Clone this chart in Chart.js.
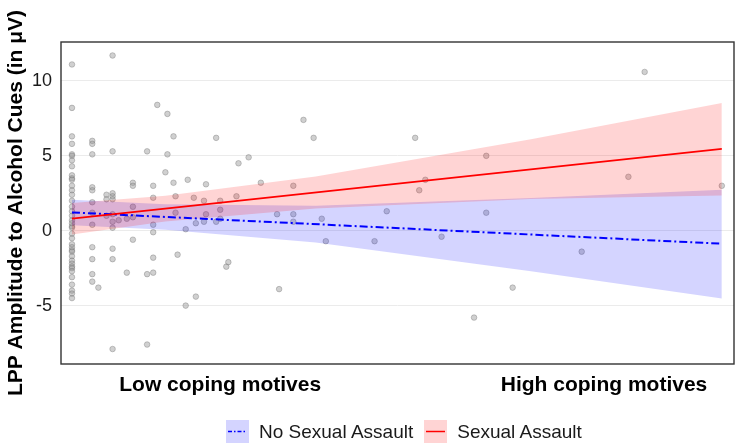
<!DOCTYPE html>
<html>
<head>
<meta charset="utf-8">
<script src="https://cdn.jsdelivr.net/npm/chart.js@4"></script>
<style>
  html, body { margin: 0; padding: 0; background: #fff; }
  #wrap { width: 740px; height: 448px; position: relative; }
  #legend { position: absolute; left: 226px; top: 420px; display: flex; align-items: center;
            font-family: 'Liberation Sans', Arial, sans-serif; font-size: 19px; color: #1a1a1a; }
  #legend .item { display: flex; align-items: center; margin-right: 11px; }
  #legend canvas { display: block; margin-right: 10px; }
</style>
</head>
<body>
<div id="wrap"><canvas id="lppChart"></canvas><div id="legend"></div></div>
<script>
// scatter of participants (coping score, LPP amplitude)
const pointsX = [
  0,0,0,0,0,0,0,0,0,0,0,0,0,0,0,0,0,0,0,0,0,0,0,0,0,0,0,0,0,0,0,0,0,0,0,0,0,0,0,
  1,1,1,1,1,1,1,1,1,1,1,1, 1.3, 1.7,1.7,1.7,
  2,2,2,2,2,2,2,2,2,2,2, 2.3, 2.7,2.7, 3,3,3,3,3, 3.7,3.7,3.7,
  4,4,4,4,4,4, 4.2, 4.6, 4.7,4.7, 5.0,5.0, 5.1,5.1, 5.2, 5.6,5.6, 5.7, 6.0, 6.1,6.1,
  6.5,6.5, 6.6,6.6, 7.1,7.1, 7.3,7.3,7.3, 7.6, 7.7, 8.1, 8.2, 8.7, 9.3, 10.1, 10.2,
  10.9,10.9,10.9, 11.4, 11.9, 12.3, 12.5, 14.9, 15.5, 16.9, 17.1, 17.4, 18.2, 19.8,
  20.4,20.4, 21.7, 25.1, 27.4, 28.2, 32.0
];
const pointsY = [
  11.1,8.2,6.3,5.8,5.1,5.0,4.7,4.3,3.7,3.5,3.4,3.0,2.7,2.4,2.0,1.6,1.3,1.0,0.7,0.5,0.3,0.2,
  -0.2,-0.5,-0.9,-1.1,-1.3,-1.4,-1.7,-2.0,-2.2,-2.4,-2.5,-2.7,-3.1,-3.6,-4.0,-4.2,-4.5,
  6.0,5.8,5.1,2.9,2.7,1.9,1.2,0.4,-1.1,-1.9,-2.9,-3.4, -3.8, 2.4,2.1,1.0,
  11.7,5.3,2.5,2.3,2.1,1.1,0.6,0.2,-1.2,-1.9,-7.9, 0.7, 0.8,-2.8, 3.2,3.0,1.6,0.9,-0.6, 5.3,-2.9,-7.6,
  3.0,2.2,0.4,-0.1,-1.8,-2.8, 8.4, 3.9, 7.8,5.1, 3.2,6.3, 2.3,1.2, -1.6, 0.1,-5.0, 3.4, 2.2, 0.5,-4.4,
  2.0,0.6, 3.1,1.1, 6.2,0.6, 2.0,1.4,0.8, -2.4, -2.1, 2.3, 4.5, 4.9, 3.2, 1.1, -3.9,
  3.0,1.1,0.6, 7.4, 6.2, 0.8, -0.7, -0.7, 1.3, 6.2, 2.7, 3.4, -0.4, -5.8,
  5.0,1.2, -3.8, -1.4, 3.6, 10.6, 3.0
];

// regression lines
const lineX = [0, 32];
const noAssaultFit = [1.22, -0.87];
const assaultFit = [0.8, 5.47];

// confidence bands (read at a few x positions)
const bandX = [0, 4.6, 12, 22.6, 32];
const noAssaultUpper = [2.07, 1.77, 1.66, 2.19, 2.73];
const noAssaultLower = [0.37, 0.07, -0.78, -2.71, -4.53];
const assaultUpper = [1.85, 2.33, 3.62, 6.11, 8.53];
const assaultLower = [-0.25, 0.61, 1.48, 2.11, 2.35];

const yTickValues = [-5, 0, 5, 10];
const xTickValues = [7.3, 26.2];
const xTickLabels = ['Low coping motives', 'High coping motives'];
const groupNames = ['No Sexual Assault', 'Sexual Assault'];

const FONT = "'Liberation Sans', Arial, sans-serif";
const BLUE = '#0000FF';
const RED = '#FF0000';
const BLUE_FILL = 'rgba(0,0,255,0.17)';
const RED_FILL = 'rgba(255,0,0,0.17)';
const BLUE_DASH = [8, 3, 2, 3];

const pairs = (xs, ys) => xs.map((x, i) => ({ x: x, y: ys[i] }));

function swatch(fill, stroke, dash) {
  const c = document.createElement('canvas');
  c.width = 23; c.height = 23;
  const g = c.getContext('2d');
  g.fillStyle = fill;
  g.fillRect(0, 0, 23, 23);
  g.strokeStyle = stroke;
  g.lineWidth = 1.5;
  g.setLineDash(dash);
  g.beginPath();
  g.moveTo(2, 11.5);
  g.lineTo(21, 11.5);
  g.stroke();
  return c;
}

// legend under the plot (ggplot puts it slightly right of centre)
const legendEl = document.getElementById('legend');
[[BLUE_FILL, BLUE, [4, 2, 1.5, 2]], [RED_FILL, RED, []]].forEach((s, i) => {
  const item = document.createElement('div');
  item.className = 'item';
  item.appendChild(swatch(s[0], s[1], s[2]));
  const label = document.createElement('span');
  label.textContent = groupNames[i];
  item.appendChild(label);
  legendEl.appendChild(item);
});

const panelBorder = {
  id: 'panelBorder',
  afterDatasetsDraw(chart) {
    const { ctx, chartArea: a } = chart;
    ctx.save();
    ctx.strokeStyle = '#333';
    ctx.lineWidth = 1.4;
    ctx.strokeRect(a.left, a.top, a.right - a.left, a.bottom - a.top);
    ctx.restore();
  }
};

const band = (upper, lower, fill) => ([
  { type: 'line', data: pairs(bandX, upper), borderWidth: 0, pointRadius: 0,
    backgroundColor: fill, fill: '+1', tension: 0 },
  { type: 'line', data: pairs(bandX, lower), borderWidth: 0, pointRadius: 0,
    backgroundColor: 'rgba(0,0,0,0)', fill: false, tension: 0 }
]);

const blueBand = band(noAssaultUpper, noAssaultLower, BLUE_FILL);
const redBand = band(assaultUpper, assaultLower, RED_FILL);
blueBand[0].order = 8; blueBand[1].order = 7;
redBand[0].order = 6; redBand[1].order = 5;

const ctx = document.getElementById('lppChart').getContext('2d');
new Chart(ctx, {
  data: {
    datasets: [
      { type: 'scatter', data: pairs(pointsX, pointsY), order: 10,
        pointRadius: 2.8, pointBackgroundColor: 'rgba(150,150,150,0.45)',
        pointBorderColor: 'rgba(110,110,110,0.45)', pointBorderWidth: 0.8 },
      ...blueBand,
      ...redBand,
      { type: 'line', label: groupNames[0], data: pairs(lineX, noAssaultFit), order: 2,
        borderColor: BLUE, borderWidth: 2, borderDash: BLUE_DASH, pointRadius: 0, fill: false },
      { type: 'line', label: groupNames[1], data: pairs(lineX, assaultFit), order: 1,
        borderColor: RED, borderWidth: 1.8, pointRadius: 0, fill: false }
    ]
  },
  options: {
    responsive: true,
    maintainAspectRatio: false,
    animation: false,
    layout: { padding: { top: 42, right: 6, left: 0, bottom: 41 } },
    scales: {
      x: {
        type: 'linear',
        min: -0.54,
        max: 32.6,
        afterBuildTicks: (scale) => { scale.ticks = xTickValues.map(v => ({ value: v })); },
        afterFit: (scale) => { scale.height = 43; },
        grid: { display: false, drawTicks: false },
        border: { display: false },
        ticks: {
          autoSkip: false, maxRotation: 0, padding: 9, color: '#000',
          font: { family: FONT, size: 21, weight: 'bold' },
          callback: (v, i) => xTickLabels[i]
        }
      },
      y: {
        min: -8.9,
        max: 12.6,
        afterBuildTicks: (scale) => { scale.ticks = yTickValues.map(v => ({ value: v })); },
        afterFit: (scale) => { scale.width = 61; },
        grid: { color: '#EBEBEB', lineWidth: 1, drawTicks: false },
        border: { display: false },
        ticks: { padding: 9, color: '#1a1a1a', font: { family: FONT, size: 18 } },
        title: {
          display: true,
          text: 'LPP Amplitude to Alcohol Cues (in μV)',
          color: '#000',
          padding: { top: 4, bottom: 0 },
          font: { family: FONT, size: 21, weight: 'bold' }
        }
      }
    },
    plugins: {
      tooltip: { enabled: false },
      legend: { display: false }
    }
  },
  plugins: [panelBorder]
});
</script>
</body>
</html>
